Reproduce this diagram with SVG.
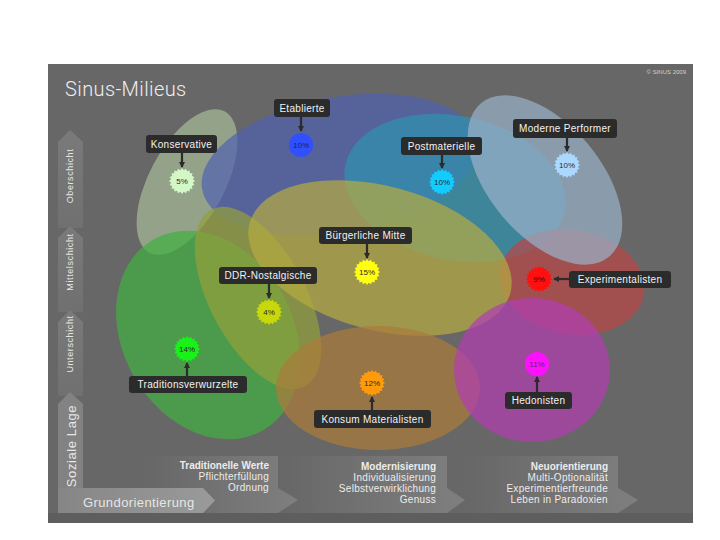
<svg xmlns="http://www.w3.org/2000/svg" width="720" height="540" viewBox="0 0 720 540">
<defs>
<style>
.area{fill-opacity:0.72}
.lbl rect{fill:#2b2b2b}
.lbl text{font-family:"Liberation Sans",Arial,sans-serif;font-size:10px;fill:#f2f2f2;text-anchor:middle;letter-spacing:0.3px}
.pct{font-family:"Liberation Sans",Arial,sans-serif;font-size:8px;fill:#2a2a2a;text-anchor:middle}
.ax{font-family:"Liberation Sans",Arial,sans-serif;font-size:9px;fill:#e6e6e6;text-anchor:middle;letter-spacing:0.6px}
.bt{font-family:"Liberation Sans",Arial,sans-serif;font-size:10px;fill:#ececec;text-anchor:end;letter-spacing:0.3px}
.bt .b{font-weight:bold;letter-spacing:0}
.conn{stroke:#2b2b2b;stroke-width:2.2;fill:none;marker-end:url(#ah)}
</style>
<marker id="ah" viewBox="0 0 6 6" refX="5" refY="3" markerWidth="6" markerHeight="6" markerUnits="userSpaceOnUse" orient="auto"><path d="M0,0 L6,3 L0,6 z" fill="#2b2b2b"/></marker>
<polygon id="star" points="13,0 10.86,1.72 12.36,4.02 9.8,4.99 10.52,7.64 7.78,7.78 7.64,10.52 4.99,9.8 4.02,12.36 1.72,10.86 0,13 -1.72,10.86 -4.02,12.36 -4.99,9.8 -7.64,10.52 -7.78,7.78 -10.52,7.64 -9.8,4.99 -12.36,4.02 -10.86,1.72 -13,0 -10.86,-1.72 -12.36,-4.02 -9.8,-4.99 -10.52,-7.64 -7.78,-7.78 -7.64,-10.52 -4.99,-9.8 -4.02,-12.36 -1.72,-10.86 0,-13 1.72,-10.86 4.02,-12.36 4.99,-9.8 7.64,-10.52 7.78,-7.78 10.52,-7.64 9.8,-4.99 12.36,-4.02 10.86,-1.72"/>
<linearGradient id="gh" x1="0" y1="0" x2="1" y2="0"><stop offset="0" stop-color="#676767"/><stop offset="1" stop-color="#7f7f7f"/></linearGradient>
<linearGradient id="gg" x1="0" y1="0" x2="1" y2="0"><stop offset="0" stop-color="#868686"/><stop offset="1" stop-color="#9a9a9a"/></linearGradient>
<linearGradient id="gv" x1="0" y1="0" x2="0" y2="1"><stop offset="0" stop-color="#7a7a7a"/><stop offset="1" stop-color="#707070"/></linearGradient>
</defs>
<rect width="720" height="540" fill="#ffffff"/>
<rect x="48" y="64" width="645" height="459" fill="#676767"/>
<rect x="48" y="513" width="645" height="10" fill="#5e5e5e"/>
<text x="65" y="96" font-family="Roboto,'Liberation Sans',sans-serif" font-weight="300" font-size="20" fill="#eeeeee" letter-spacing="0.4">Sinus-Milieus</text>
<text x="686" y="74" font-family="'Liberation Sans',Arial,sans-serif" font-size="6" fill="#d0d0d0" text-anchor="end">© SINUS 2009</text>

<g id="axis-social">
<polygon points="70,130 83,142 83,228 58,228 58,142" fill="url(#gv)"/>
<polygon points="70,226 83,238 83,312 58,312 58,238" fill="url(#gv)"/>
<polygon points="70,310 83,322 83,396 58,396 58,322" fill="url(#gv)"/>
<polygon points="70,392 83,404 83,513 58,513 58,404" fill="#828282"/>
<text class="ax" transform="translate(73,176) rotate(-90)">Oberschicht</text>
<text class="ax" transform="translate(73,262) rotate(-90)">Mittelschicht</text>
<text class="ax" transform="translate(73,344) rotate(-90)">Unterschicht</text>
<text class="ax" style="font-size:13px" transform="translate(76,446) rotate(-90)">Soziale Lage</text>
</g>

<g id="axis-orientation">
<polygon points="467,456 618,456 618,488 638,500 618,513 467,513" fill="url(#gh)"/>
<polygon points="282,456 447,456 447,488 465,500 447,513 282,513" fill="url(#gh)"/>
<polygon points="147,456 278,456 278,488 298,500 278,513 147,513" fill="url(#gh)"/>
<polygon points="58,488 203,488 215,500.5 203,513 58,513" fill="url(#gg)"/>
<text x="83" y="507" font-family="'Liberation Sans',Arial,sans-serif" font-size="13" fill="#e6e6e6" letter-spacing="0.4">Grundorientierung</text>
<text class="bt" x="269" y="469"><tspan class="b">Traditionelle Werte</tspan><tspan x="269" dy="11">Pflichterfüllung</tspan><tspan x="269" dy="11">Ordnung</tspan></text>
<text class="bt" x="436" y="470"><tspan class="b">Modernisierung</tspan><tspan x="436" dy="11">Individualisierung</tspan><tspan x="436" dy="11">Selbstverwirklichung</tspan><tspan x="436" dy="11">Genuss</tspan></text>
<text class="bt" x="608" y="470"><tspan class="b">Neuorientierung</tspan><tspan x="608" dy="11">Multi-Optionalität</tspan><tspan x="608" dy="11">Experimentierfreunde</tspan><tspan x="608" dy="11">Leben in Paradoxien</tspan></text>
</g>

<g id="areas">
<ellipse id="area-konservative" class="area" cx="187" cy="182" rx="80" ry="38" transform="rotate(-62 187 182)" fill="#a6ba98"/>
<ellipse id="area-etablierte" class="area" cx="340" cy="165" rx="140" ry="68" transform="rotate(-10 340 165)" fill="#5063b0"/>
<ellipse id="area-postmaterielle" class="area" cx="455" cy="188" rx="112" ry="72" transform="rotate(12 455 188)" fill="#2f92ae"/>
<ellipse id="area-experimentalisten" class="area" cx="572" cy="282" rx="73" ry="52" transform="rotate(10 572 282)" fill="#b84646"/>
<ellipse id="area-performer" class="area" cx="545" cy="180" rx="100" ry="56" transform="rotate(50 545 180)" fill="#99b0c8"/>
<ellipse id="area-traditionsverwurzelte" class="area" cx="208" cy="335" rx="110" ry="85" transform="rotate(60 208 335)" fill="#42b042"/>
<ellipse id="area-ddr" class="area" cx="258" cy="298" rx="100" ry="48" transform="rotate(62 258 298)" fill="#929f3b"/>
<ellipse id="area-buergerliche" class="area" cx="380" cy="258" rx="135" ry="72" transform="rotate(15 380 258)" fill="#b4aa42"/>
<ellipse id="area-konsum" class="area" cx="378" cy="388" rx="102" ry="62" fill="#aa7c3c"/>
<ellipse id="area-hedonisten" class="area" cx="532" cy="370" rx="78" ry="72" fill="#b23eb2"/>
</g>

<g id="connectors">
<path class="conn" d="M301,117 L301,131"/>
<path class="conn" d="M182,153 L182,167"/>
<path class="conn" d="M442,155 L442,168"/>
<path class="conn" d="M567,138 L567,151"/>
<path class="conn" d="M367,244 L367,258"/>
<path class="conn" d="M269,284 L269,298"/>
<path class="conn" d="M569,279 L554,279"/>
<path class="conn" d="M187,376 L187,363"/>
<path class="conn" d="M372,410 L372,397"/>
<path class="conn" d="M537,392 L537,377"/>
</g>

<g id="etablierte">
<g class="lbl"><rect x="274" y="99" width="56" height="18" rx="3"/><text x="302" y="111.5">Etablierte</text></g>
<circle cx="301" cy="145" r="12" fill="#3050ff"/><text class="pct" x="301" y="148" style="fill:#14206a">10%</text>
</g>
<g id="konservative">
<g class="lbl"><rect x="146" y="135" width="71" height="18" rx="3"/><text x="181.5" y="147.5">Konservative</text></g>
<use href="#star" x="182" y="181" fill="#d4f7c8"/><text class="pct" x="182" y="184">5%</text>
</g>
<g id="postmaterielle">
<g class="lbl"><rect x="401" y="137" width="81" height="18" rx="3"/><text x="441.5" y="149.5">Postmaterielle</text></g>
<use href="#star" x="442" y="182" fill="#12ccff"/><text class="pct" x="442" y="185">10%</text>
</g>
<g id="moderne-performer">
<g class="lbl"><rect x="513" y="119" width="104" height="19" rx="3"/><text x="565" y="132">Moderne Performer</text></g>
<use href="#star" x="567" y="165" fill="#aad8ff"/><text class="pct" x="567" y="168">10%</text>
</g>
<g id="buergerliche-mitte">
<g class="lbl"><rect x="319" y="227" width="93" height="17" rx="3"/><text x="365.5" y="239">Bürgerliche Mitte</text></g>
<use href="#star" x="367" y="272" fill="#ffff10"/><text class="pct" x="367" y="275">15%</text>
</g>
<g id="ddr-nostalgische">
<g class="lbl"><rect x="219" y="267" width="98" height="17" rx="3"/><text x="268" y="279">DDR-Nostalgische</text></g>
<use href="#star" x="269" y="312" fill="#c8d80a"/><text class="pct" x="269" y="315">4%</text>
</g>
<g id="experimentalisten">
<g class="lbl"><rect x="569" y="271" width="102" height="17" rx="3"/><text x="620" y="283">Experimentalisten</text></g>
<use href="#star" x="539" y="279" fill="#ff1010"/><text class="pct" x="539" y="282" style="fill:#500">9%</text>
</g>
<g id="traditionsverwurzelte">
<g class="lbl"><rect x="129" y="376" width="118" height="17" rx="3"/><text x="188" y="388">Traditionsverwurzelte</text></g>
<use href="#star" x="187" y="349" fill="#1af01a"/><text class="pct" x="187" y="352">14%</text>
</g>
<g id="konsum-materialisten">
<g class="lbl"><rect x="314" y="410" width="117" height="18" rx="3"/><text x="372.5" y="422.5">Konsum Materialisten</text></g>
<use href="#star" x="372" y="383" fill="#ff9a0a"/><text class="pct" x="372" y="386">12%</text>
</g>
<g id="hedonisten">
<g class="lbl"><rect x="505" y="392" width="67" height="17" rx="3"/><text x="538.5" y="404">Hedonisten</text></g>
<circle cx="537" cy="364" r="12" fill="#ff10ff"/><text class="pct" x="537" y="367" style="fill:#6a206a">11%</text>
</g>
</svg>
